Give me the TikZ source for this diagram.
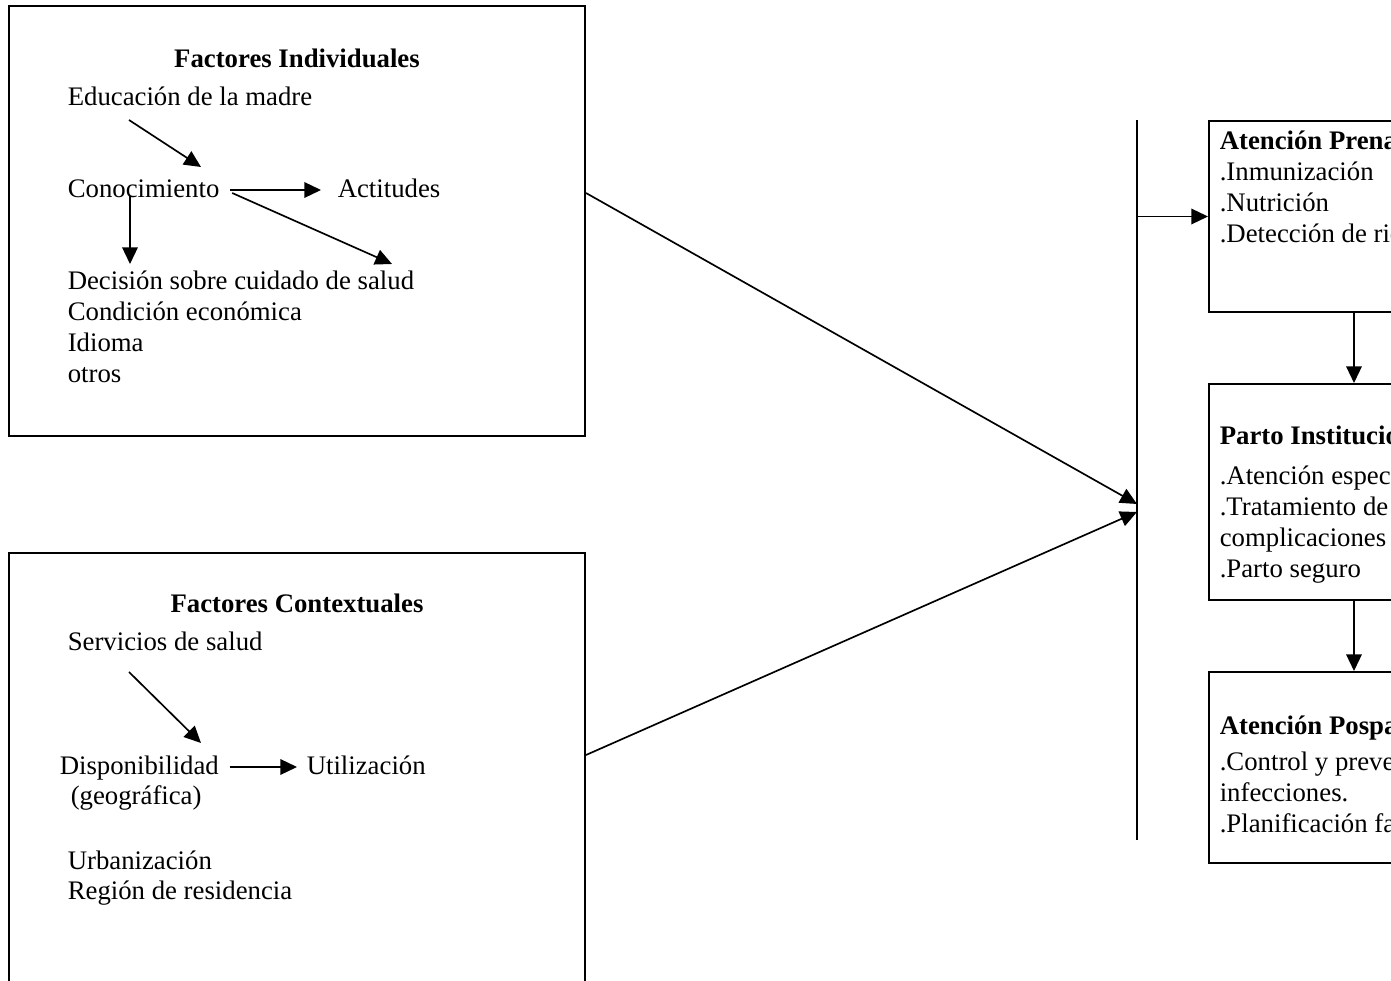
\documentclass[tikz,border=0pt]{standalone}
\usepackage{fontspec}
\setmainfont{Liberation Serif}
\usetikzlibrary{arrows.meta}
\def\px{0.4484pt}

\begin{document}
\begin{tikzpicture}[x=\px,y=-\px,>={Triangle[length=7.5pt,width=7pt]},line width=0.7pt]
	\tikzstyle{box}=[draw,line width=0.9pt,inner sep=0pt]
	\tikzstyle{txt}=[anchor=west,inner sep=0pt,text height=9pt,text depth=2.5pt,font=\fontsize{12}{13.8}\selectfont]
	\tikzstyle{head}=[txt,font=\fontsize{12}{13.8}\selectfont\bfseries]
	\tikzstyle{link}=[->,line width=0.75pt]

	\useasboundingbox (0,0) rectangle (1391,981);
	\clip (0,0) rectangle (1391,981);

	% Draw the two factor boxes
	\node[box,minimum width=576*\px,minimum height=430*\px] (ind) at (297,221) {};
	\node[box,minimum width=576*\px,minimum height=430*\px] (ctx) at (297,768) {};

	% Individual factors
	\node[head,anchor=center] (ind-title) at (297,60) {Factores Individuales};
	\node[txt] (edu) at (67,98) {Educación de la madre};
	\node[txt] (conoc) at (67,190) {Conocimiento};
	\node[txt] (actit) at (337,190) {Actitudes};
	\foreach \entry [count=\i] in {Decisión sobre cuidado de salud,Condición económica,Idioma,otros}
		\node[txt] (ind-\i) at (67,251+31*\i) {\entry};

	\draw[link] ([shift={(62,22)}]edu.west) -- ([shift={(134,-23)}]conoc.west);
	\draw[link] ([shift={(10,0)}]conoc.east) -- ([shift={(-16,0)}]actit.west);
	\draw[link] ([shift={(12,3)}]conoc.east) -- ([shift={(325,-18)}]ind-1.west);
	\draw[link] ([shift={(63,6)}]conoc.west) -- ([shift={(63,-18)}]ind-1.west);

	% Contextual factors
	\node[head,anchor=center] (ctx-title) at (297,605) {Factores Contextuales};
	\node[txt] (serv) at (67,643) {Servicios de salud};
	\node[txt] (disp) at (59,767) {Disponibilidad};
	\node[txt] (util) at (306,767) {Utilización};
	\node[txt] (geo) at (70,797) {(geográfica)};
	\node[txt] (urb) at (67,862) {Urbanización};
	\node[txt] (reg) at (67,892) {Región de residencia};

	\draw[link] ([shift={(62,29)}]serv.west) -- ([shift={(142,-24)}]disp.west);
	\draw[link] ([shift={(10,0)}]disp.east) -- ([shift={(-9,0)}]util.west);

	% Collecting line
	\coordinate (vtop) at (1137,120);
	\coordinate (vbot) at (1137,840);
	\coordinate (in-1) at (1137,504);
	\coordinate (in-2) at (1137,512);
	\draw[line width=0.8pt] (vtop) -- (vbot);
	\draw[link] ([shift={(0,-28)}]ind.east) -- (in-1);
	\draw[link] ([shift={(0,-13)}]ctx.east) -- (in-2);

	% Care boxes
	\node[box,minimum width=290*\px,minimum height=191*\px] (pren) at (1354,216.5) {};
	\node[box,minimum width=290*\px,minimum height=216*\px] (parto) at (1354,492) {};
	\node[box,minimum width=290*\px,minimum height=191*\px] (pospa) at (1354,767.5) {};

	\draw[link] (vtop |- pren.west) -- (pren.west);
	\draw[link] (pren) -- (parto);
	\draw[link] (parto) -- (pospa);

	\node[head] (pren-title) at (1219,142) {Atención Prenatal};
	\foreach \entry [count=\i] in {.Inmunización,.Nutrición,.Detección de riesgos}
		\node[txt] (pren-\i) at (1219,142+31*\i) {\entry};

	\node[head] (parto-title) at (1219,437) {Parto Institucional};
	\foreach \entry [count=\i] in {.Atención especializada,.Tratamiento de,complicaciones,.Parto seguro}
		\node[txt] (parto-\i) at (1219,446+31*\i) {\entry};

	\node[head] (pospa-title) at (1219,727) {Atención Posparto};
	\foreach \entry [count=\i] in {.Control y prevención de,infecciones.,.Planificación familiar}
		\node[txt] (pospa-\i) at (1219,732+31*\i) {\entry};
\end{tikzpicture}
\end{document}
